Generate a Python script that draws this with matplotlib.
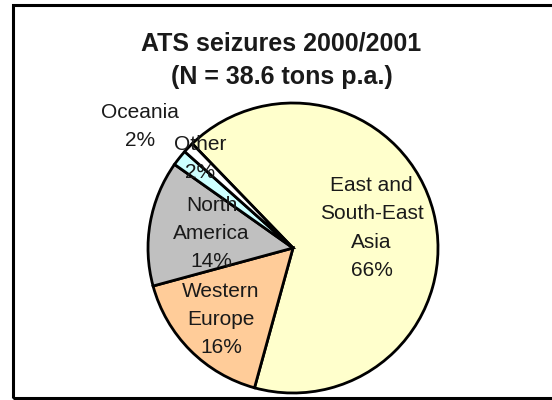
import numpy as np
import matplotlib.pyplot as plt
from matplotlib.patches import Rectangle

plt.rcParams['font.family'] = ['Liberation Sans', 'DejaVu Sans']

# Datos del gráfico (porcentajes)
regiones = ['East and\nSouth-East\nAsia', 'Western\nEurope', 'North\nAmerica', 'Oceania', 'Other']
valores = [66.5, 16.5, 14.0, 1.8, 1.2]
etiquetas_pct = ['66%', '16%', '14%', '2%', '2%']
colores = ['#FFFFCC', '#FFCC99', '#C0C0C0', '#CCFFFF', '#FFFFFF']
titulo = 'ATS seizures 2000/2001\n(N = 38.6 tons p.a.)'

# Distancia radial de cada etiqueta (fracción del radio)
dist_etiqueta = [0.56, 0.70, 0.57, 1.35, 0.89]

W, H = 552, 400
fig = plt.figure(figsize=(W / 100, H / 100), dpi=100)
ax = fig.add_axes([0, 0, 1, 1])

centro = (293, H - 248)
radio = 145
wedges, _ = ax.pie(valores, colors=colores, startangle=134, counterclock=False,
                   center=centro, radius=radio, frame=True,
                   wedgeprops=dict(edgecolor='black', linewidth=2.0))
ax.set_xlim(0, W)
ax.set_ylim(0, H)
ax.set_aspect('equal')
ax.axis('off')

for w, reg, pct, d in zip(wedges, regiones, etiquetas_pct, dist_etiqueta):
    ang = np.deg2rad((w.theta1 + w.theta2) / 2)
    x = centro[0] + d * radio * np.cos(ang)
    y = centro[1] + d * radio * np.sin(ang)
    ax.text(x, y, reg + '\n' + pct, ha='center', va='center', fontsize=15,
            linespacing=1.62, color='#1a1a1a')

fig.text(0.51, 1 - 60 / H, titulo, ha='center', va='center', fontsize=18,
         fontweight='bold', linespacing=1.5, color='#1a1a1a')

# Marco
marco = Rectangle((13 / W, 2.5 / H), 1.0, 392.5 / H, transform=fig.transFigure,
                  fill=False, edgecolor='black', linewidth=2.2)
fig.add_artist(marco)

fig.savefig('out.png', dpi=100)
